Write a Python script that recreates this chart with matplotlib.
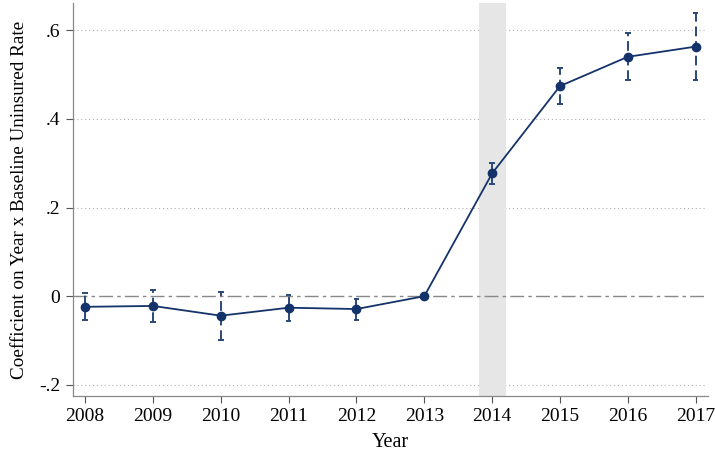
import matplotlib
matplotlib.use("Agg")
import matplotlib.pyplot as plt
import numpy as np

years = [2008, 2009, 2010, 2011, 2012, 2013, 2014, 2015, 2016, 2017]
coef = [-0.024, -0.022, -0.044, -0.026, -0.029, 0.0, 0.277, 0.474, 0.540, 0.563]
ci_low = [-0.054, -0.059, -0.098, -0.056, -0.054, 0.0, 0.252, 0.433, 0.487, 0.487]
ci_high = [0.007, 0.015, 0.009, 0.002, -0.006, 0.0, 0.300, 0.515, 0.593, 0.638]
yticks = [-0.2, 0, 0.2, 0.4, 0.6]
yticklabels = ["-.2", "0", ".2", ".4", ".6"]

plt.rcParams['font.family'] = ['Liberation Serif', 'DejaVu Serif']
navy = '#14336a'
ci_col = '#2a4878'

fig = plt.figure(figsize=(7.15, 4.53), dpi=100)
ax = fig.add_axes([0.102, 0.126, 0.888, 0.867])

ax.set_xlim(2007.82, 2017.18)
ax.set_ylim(-0.225, 0.661)

for yv in [-0.2, 0.2, 0.4, 0.6]:
    ax.axhline(yv, xmax=0.995, color='#b0b0b0', lw=0.8, ls=(0, (1, 2.5)), zorder=1)
ax.axvspan(2013.8, 2014.2, color='#e6e6e6', lw=0, zorder=2)
ax.axhline(0, color='#888888', lw=1.0, ls=(0, (10, 3, 2.5, 3)), zorder=3)

# error bars
for x, lo, hi in zip(years, ci_low, ci_high):
    if hi - lo > 0:
        ax.vlines(x, lo, hi, color=ci_col, lw=1.4, ls=(0, (5, 2.5)), zorder=4)
        ax.hlines([lo, hi], x - 0.04, x + 0.04, color=ci_col, lw=1.4, zorder=4)

ax.plot(years, coef, color=navy, lw=1.3, marker='o', ms=6, zorder=5)

ax.set_xticks(years)
ax.set_yticks(yticks)
ax.set_yticklabels(yticklabels)
ax.tick_params(axis='both', colors='#555555', labelcolor='black', labelsize=14, length=5, width=0.8)
ax.tick_params(axis='y', pad=4)
for s in ['top', 'right']:
    ax.spines[s].set_visible(False)
for s in ['left', 'bottom']:
    ax.spines[s].set_color('#888888')
    ax.spines[s].set_linewidth(0.9)

ax.set_xlabel('Year', fontsize=14.5, labelpad=6)
ax.set_ylabel('Coefficient on Year x Baseline Uninsured Rate', fontsize=13.8, labelpad=8)

fig.savefig('out.png', dpi=100)
